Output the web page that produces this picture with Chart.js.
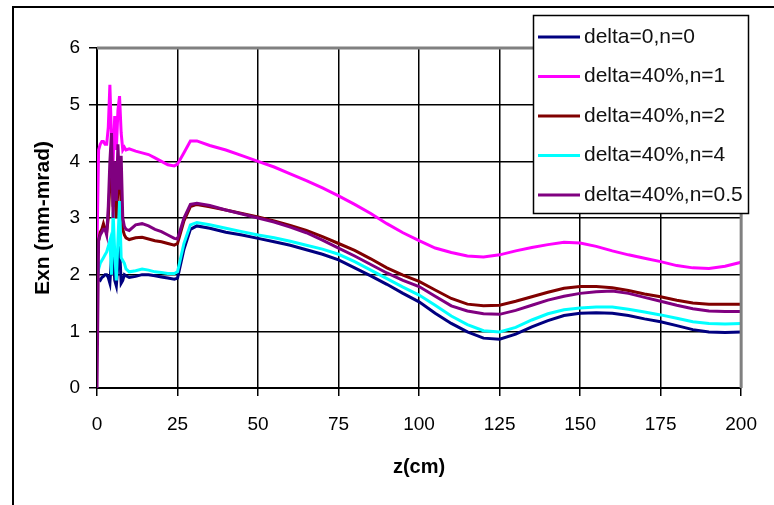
<!DOCTYPE html>
<html>
<head>
<meta charset="utf-8">
<script src="https://cdn.jsdelivr.net/npm/chart.js@4.4.1/dist/chart.umd.min.js"></script>
<style>
  html, body { margin: 0; padding: 0; background: #fff; }
  canvas { display: block; }
</style>
</head>
<body>
<canvas id="exnChart" width="774" height="505"></canvas>
<script>
// z positions (cm), shared by all runs
const z = [0, 0.5, 1, 1.5, 2, 2.5, 3, 3.5, 4, 4.5, 5, 5.5, 6, 6.5, 7, 7.5, 8, 8.5, 9,
  10, 12, 14, 16, 18, 20, 22, 24, 25, 27, 29, 31, 35, 40, 45, 50, 55, 60, 65, 70, 75,
  80, 85, 90, 95, 100, 105, 110, 115, 120, 125, 130, 135, 140, 145, 150, 155, 160,
  165, 170, 175, 180, 185, 190, 195, 200];

// normalized emittance Exn (mm-mrad) for each run
const exnD0n0 = [1.95, 1.92, 1.9, 1.95, 1.97, 2.0, 2.0, 1.95, 1.85, 2.3, 2.5, 1.9, 1.8, 2.2, 2.5, 1.85, 1.9, 2.0, 1.98,
  1.95, 1.97, 2.0, 2.0, 1.98, 1.96, 1.94, 1.92, 1.94, 2.45, 2.8, 2.86, 2.82, 2.75, 2.7, 2.64, 2.58, 2.52, 2.44, 2.36, 2.26,
  2.12, 1.98, 1.83, 1.67, 1.52, 1.32, 1.14, 0.99, 0.88, 0.86, 0.95, 1.08, 1.19, 1.28, 1.32, 1.33, 1.32,
  1.28, 1.22, 1.17, 1.1, 1.03, 0.99, 0.98, 0.99];
const exnD40n1 = [2.5, 4.2, 4.3, 4.35, 4.35, 4.3, 4.3, 4.6, 5.35, 4.4, 4.0, 4.8, 4.2, 4.9, 5.15, 4.5, 4.2, 4.25, 4.2,
  4.22, 4.18, 4.15, 4.12, 4.06, 4.0, 3.94, 3.92, 3.95, 4.15, 4.36, 4.36, 4.28, 4.2, 4.1, 4.0, 3.9, 3.78, 3.66, 3.53, 3.39,
  3.24, 3.08, 2.9, 2.74, 2.6, 2.47, 2.39, 2.33, 2.31, 2.35, 2.42, 2.48, 2.53, 2.57, 2.56, 2.5, 2.42,
  2.35, 2.29, 2.23, 2.16, 2.12, 2.11, 2.15, 2.22];
const exnD40n2 = [2.3, 2.6, 2.75, 2.8, 2.9, 2.8, 2.75, 3.0, 3.6, 4.2, 3.2, 3.8, 3.0, 3.5, 4.0, 3.2, 2.8, 2.7, 2.65,
  2.62, 2.65, 2.66, 2.63, 2.6, 2.58, 2.55, 2.52, 2.55, 2.95, 3.2, 3.24, 3.2, 3.14, 3.08, 3.02, 2.95, 2.87, 2.78, 2.67, 2.55,
  2.43, 2.28, 2.12, 1.99, 1.88, 1.73, 1.58, 1.48, 1.45, 1.46, 1.53, 1.61, 1.69, 1.76, 1.79, 1.79, 1.77,
  1.72, 1.66, 1.61, 1.55, 1.5, 1.48, 1.48, 1.48];
const exnD40n4 = [1.9, 2.1, 2.2, 2.25, 2.3, 2.35, 2.4, 2.5, 2.6, 2.0, 3.1, 2.4, 1.9, 2.6, 3.3, 2.3, 2.25, 2.2, 2.1,
  2.05, 2.07, 2.1, 2.08, 2.05, 2.04, 2.02, 2.02, 2.05, 2.55, 2.88, 2.92, 2.88, 2.82, 2.76, 2.7, 2.65, 2.59, 2.52, 2.45, 2.36,
  2.23, 2.08, 1.93, 1.78, 1.64, 1.46, 1.27, 1.12, 1.01, 0.99, 1.07, 1.2, 1.31, 1.38, 1.41, 1.43, 1.43,
  1.39, 1.34, 1.29, 1.23, 1.17, 1.14, 1.13, 1.14];
const exnD40n05 = [0, 2.6, 2.7, 2.75, 2.8, 2.8, 2.7, 3.2, 4.0, 4.5, 3.0, 4.0, 3.3, 4.3, 3.5, 4.1, 3.0, 2.85, 2.8,
  2.78, 2.88, 2.9, 2.86, 2.8, 2.76, 2.7, 2.64, 2.63, 3.0, 3.24, 3.26, 3.22, 3.14, 3.07, 3.0, 2.93, 2.84, 2.74, 2.61, 2.47,
  2.33, 2.18, 2.03, 1.9, 1.79, 1.62, 1.45, 1.36, 1.31, 1.3, 1.37, 1.46, 1.55, 1.62, 1.67, 1.7, 1.71,
  1.67, 1.6, 1.53, 1.46, 1.4, 1.36, 1.35, 1.35];

const seriesNames = ['delta=0,n=0', 'delta=40%,n=1', 'delta=40%,n=2', 'delta=40%,n=4', 'delta=40%,n=0.5'];
const seriesValues = [exnD0n0, exnD40n1, exnD40n2, exnD40n4, exnD40n05];
const seriesColors = ['#000080', '#FF00FF', '#800000', '#00FFFF', '#800080'];

const FONT = "'Liberation Sans', Arial, sans-serif";

// page frame + gray top/right edge of the plot area
const framePlugin = {
  id: 'frame',
  beforeDraw(chart) {
    const ctx = chart.ctx;
    ctx.save();
    ctx.fillStyle = '#fff';
    ctx.fillRect(0, 0, chart.width, chart.height);
    ctx.strokeStyle = '#000';
    ctx.lineWidth = 2;
    ctx.beginPath();
    ctx.moveTo(13, chart.height);
    ctx.lineTo(13, 7);
    ctx.lineTo(chart.width, 7);
    ctx.stroke();
    ctx.restore();
  },
  afterDatasetsDraw(chart) {
    const {ctx, chartArea: a} = chart;
    ctx.save();
    ctx.strokeStyle = '#808080';
    ctx.lineWidth = 3;
    ctx.beginPath();
    ctx.moveTo(a.left, a.top);
    ctx.lineTo(a.right, a.top);
    ctx.lineTo(a.right, a.bottom);
    ctx.stroke();
    ctx.restore();
  }
};

// boxed legend in the upper right corner
const boxLegend = {
  id: 'boxLegend',
  afterDraw(chart) {
    const ctx = chart.ctx;
    const bx = 533, by = 15, bw = 215, bh = 198;
    ctx.save();
    ctx.fillStyle = '#fff';
    ctx.fillRect(bx, by, bw, bh);
    ctx.strokeStyle = '#000';
    ctx.lineWidth = 1.5;
    ctx.strokeRect(bx + 0.5, by + 0.5, bw, bh);
    ctx.font = '21px ' + FONT;
    ctx.textBaseline = 'middle';
    ctx.textAlign = 'left';
    chart.data.datasets.forEach((ds, i) => {
      const y = 37 + i * 39.5;
      ctx.strokeStyle = ds.borderColor;
      ctx.lineWidth = 3;
      ctx.beginPath();
      ctx.moveTo(538, y);
      ctx.lineTo(580, y);
      ctx.stroke();
      ctx.fillStyle = '#111';
      ctx.fillText(ds.label, 584, y);
    });
    ctx.restore();
  }
};

const datasets = seriesNames.map((name, i) => ({
  label: name,
  data: z.map((zz, k) => ({ x: zz, y: seriesValues[i][k] })),
  borderColor: seriesColors[i],
  backgroundColor: seriesColors[i],
  borderWidth: 3,
  pointRadius: 0,
  tension: 0,
  fill: false,
  order: seriesNames.length - i
}));

new Chart(document.getElementById('exnChart'), {
  type: 'line',
  data: { datasets: datasets },
  plugins: [framePlugin, boxLegend],
  options: {
    responsive: false,
    animation: false,
    events: [],
    layout: { padding: { left: 0, top: 48, right: 21, bottom: 0 } },
    plugins: { legend: { display: false }, tooltip: { enabled: false } },
    scales: {
      x: {
        type: 'linear',
        min: 0,
        max: 200,
        afterFit: s => { s.height = 117; },
        ticks: { stepSize: 25, color: '#000', padding: 17, font: { family: FONT, size: 19 } },
        grid: { color: '#000', lineWidth: 1.5, tickLength: 8 },
        border: { color: '#000', width: 2 },
        title: { display: true, text: 'z(cm)', color: '#000', padding: { top: 0, bottom: 26 },
          font: { family: FONT, size: 20, weight: 'bold' } }
      },
      y: {
        min: 0,
        max: 6,
        afterFit: s => { s.width = 97; },
        ticks: { stepSize: 1, color: '#000', padding: 9, font: { family: FONT, size: 19 } },
        grid: { color: '#000', lineWidth: 1.5, tickLength: 8 },
        border: { color: '#000', width: 2 },
        title: { display: true, text: 'Exn (mm-mrad)', color: '#000', padding: { top: 31, bottom: 0 },
          font: { family: FONT, size: 21, weight: 'bold' } }
      }
    }
  }
});
</script>
</body>
</html>
